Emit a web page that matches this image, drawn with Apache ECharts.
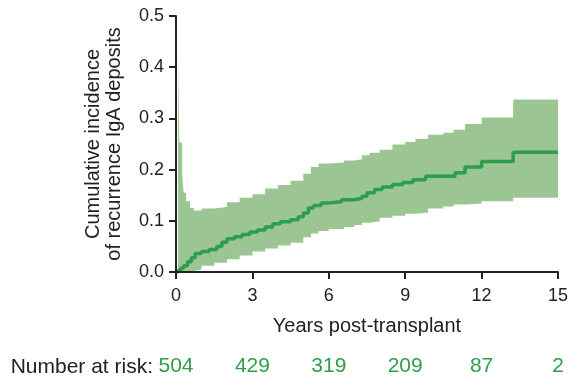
<!DOCTYPE html>
<html>
<head>
<meta charset="utf-8">
<script src="https://cdn.jsdelivr.net/npm/echarts@6/dist/echarts.min.js"></script>
<style>
  html, body { margin: 0; padding: 0; background: #fff; }
  #chart { width: 571px; height: 379px; }
</style>
</head>
<body>
<div id="chart"></div>
<script>
// 累积发生率估计（阶梯）
const estYears = [0, 0.1, 0.2, 0.3, 0.45, 0.6, 0.75, 1.0, 1.3, 1.6, 1.8, 2.0, 2.3, 2.6, 2.9, 3.2, 3.5, 3.8, 4.1, 4.5, 4.8, 5.0, 5.2, 5.4, 5.7, 6.0, 6.5, 7.0, 7.3, 7.5, 7.8, 8.1, 8.5, 8.9, 9.3, 9.8, 10.96, 11.35, 12.0, 13.24, 15];
const estimate = [0, 0.004, 0.008, 0.012, 0.02, 0.028, 0.036, 0.04, 0.044, 0.05, 0.058, 0.065, 0.069, 0.073, 0.078, 0.082, 0.088, 0.094, 0.098, 0.102, 0.108, 0.115, 0.125, 0.13, 0.135, 0.137, 0.141, 0.144, 0.148, 0.155, 0.161, 0.166, 0.171, 0.175, 0.18, 0.187, 0.194, 0.205, 0.216, 0.234, 0.234];

// 置信区间
const ciYears = [0, 0.08, 0.13, 0.24, 0.3, 0.4, 0.55, 0.7, 1.0, 1.5, 2.0, 2.5, 3.0, 3.5, 4.0, 4.5, 5.0, 5.3, 5.6, 6.0, 6.6, 7.0, 7.3, 7.6, 8.0, 8.5, 9.0, 9.4, 9.9, 10.5, 10.9, 11.35, 12.0, 13.24, 15];
const ciLower = [0, 0, 0, 0, 0, 0, 0.002, 0.005, 0.012, 0.018, 0.025, 0.032, 0.04, 0.046, 0.052, 0.057, 0.068, 0.075, 0.08, 0.084, 0.088, 0.092, 0.096, 0.099, 0.106, 0.11, 0.114, 0.116, 0.124, 0.128, 0.132, 0.134, 0.138, 0.145, 0.145];
const ciUpper = [0, 0.42, 0.253, 0.19, 0.155, 0.138, 0.125, 0.12, 0.124, 0.127, 0.136, 0.145, 0.152, 0.163, 0.17, 0.178, 0.192, 0.205, 0.212, 0.214, 0.218, 0.22, 0.228, 0.233, 0.239, 0.249, 0.254, 0.26, 0.268, 0.272, 0.278, 0.289, 0.302, 0.337, 0.337];

// 风险人数
const riskYears = [0, 3, 6, 9, 12, 15];
const riskCounts = [504, 429, 319, 209, 87, 2];

const fontFamily = '"Liberation Sans", Arial, Helvetica, sans-serif';
const textColor = '#222';
const lineColor = '#2d9e4a';
const bandColor = '#9cc594';

const chart = echarts.init(document.getElementById('chart'));

const lowerData = ciYears.map((x, i) => [x, ciLower[i]]);
const upperData = ciYears.map((x, i) => [x, ciUpper[i]]);
const estData = estYears.map((x, i) => [x, estimate[i]]);

const option = {
  animation: false,
  textStyle: { fontFamily: fontFamily },
  grid: { left: 176, right: 11, top: 16, bottom: 107, containLabel: false },
  xAxis: [{
    type: 'value',
    z: 10,
    min: 0,
    max: 15,
    interval: 3,
    name: 'Years post-transplant',
    nameLocation: 'middle',
    nameGap: 44,
    nameTextStyle: { fontSize: 20, color: textColor, fontFamily: fontFamily },
    axisLine: { lineStyle: { color: textColor, width: 2 } },
    axisTick: { length: 7, lineStyle: { color: textColor, width: 2 } },
    axisLabel: { fontSize: 18, color: textColor, margin: 15, fontFamily: fontFamily },
    splitLine: { show: false }
  }, {
    // 风险人数行
    type: 'value',
    position: 'bottom',
    offset: 76,
    min: 0,
    max: 15,
    interval: 3,
    axisLine: { show: false },
    axisTick: { show: false },
    splitLine: { show: false },
    axisLabel: {
      fontSize: 21,
      color: lineColor,
      margin: 8,
      fontFamily: fontFamily,
      formatter: (v) => {
        const idx = riskYears.indexOf(v);
        return idx >= 0 ? String(riskCounts[idx]) : '';
      }
    }
  }],
  yAxis: {
    type: 'value',
    z: 10,
    min: 0,
    max: 0.5,
    interval: 0.1,
    name: 'Cumulative incidence\nof recurrence IgA deposits',
    nameLocation: 'middle',
    nameGap: 51,
    nameTextStyle: { fontSize: 20, color: textColor, lineHeight: 21, fontFamily: fontFamily },
    axisLine: { show: true, lineStyle: { color: textColor, width: 2 } },
    axisTick: { show: true, length: 7, lineStyle: { color: textColor, width: 2 } },
    axisLabel: { fontSize: 18, color: textColor, margin: 12, fontFamily: fontFamily, formatter: (v) => v.toFixed(1) },
    splitLine: { show: false }
  },
  graphic: [{
    type: 'text',
    x: 153,
    y: 367,
    style: { text: 'Number at risk:', fontSize: 21, fill: textColor, fontFamily: fontFamily, align: 'right', verticalAlign: 'middle' }
  }],
  series: [{
    // 上界区域
    type: 'line',
    step: 'end',
    data: upperData,
    showSymbol: false,
    lineStyle: { width: 0, opacity: 0 },
    areaStyle: { color: bandColor, opacity: 1, origin: 'start' },
    silent: true,
    z: 1
  }, {
    // 下界以下涂白
    type: 'line',
    step: 'end',
    data: lowerData,
    showSymbol: false,
    lineStyle: { width: 0, opacity: 0 },
    areaStyle: { color: '#ffffff', opacity: 1, origin: 'start' },
    silent: true,
    z: 2
  }, {
    type: 'line',
    step: 'end',
    data: estData,
    showSymbol: false,
    lineStyle: { color: lineColor, width: 3.5 },
    z: 3
  }]
};

chart.setOption(option);
</script>
</body>
</html>
